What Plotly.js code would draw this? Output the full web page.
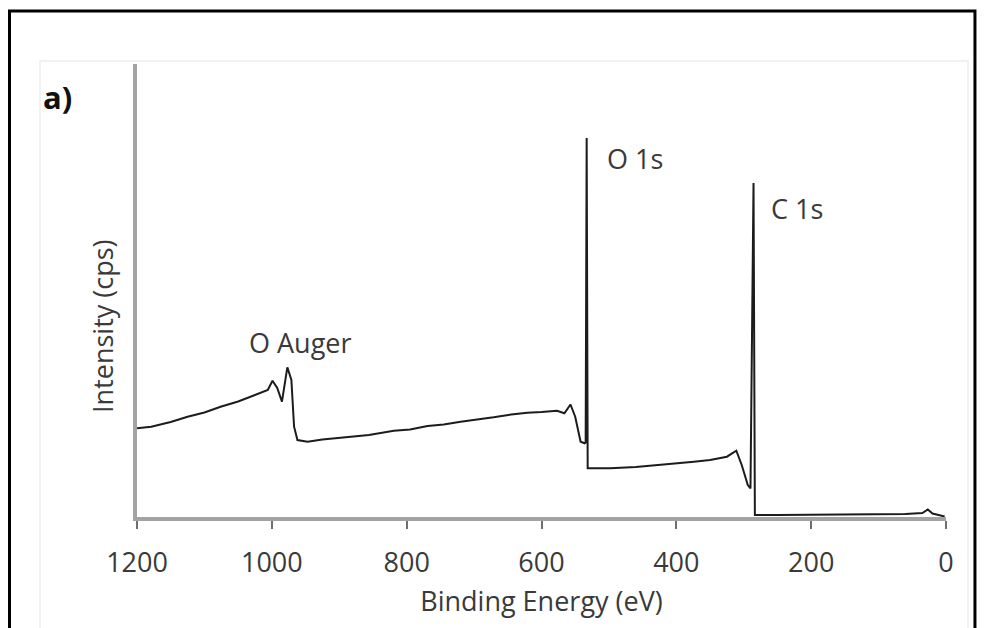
<!DOCTYPE html>
<html>
<head>
<meta charset="utf-8">
<script src="https://cdn.plot.ly/plotly-3.0.1.min.js"></script>
<style>
  html, body { margin: 0; padding: 0; background: #ffffff; }
  #chart { width: 985px; height: 628px; }
</style>
</head>
<body>
<div id="chart"></div>
<script>
// Binding energy (eV) and intensity (arbitrary cps units)
const bindingEnergy = [1200, 1179, 1150, 1125, 1100, 1076, 1050, 1026, 1006, 999, 992, 985, 977, 971, 967, 962, 947, 925, 903, 880, 856, 819, 795, 769, 745, 720, 700, 671, 645, 621, 600, 577, 566, 557, 550, 542, 536, 534.5, 533, 531.5, 527, 498, 460, 424, 374, 350, 325, 311, 303, 294, 290, 285.5, 283.5, 250, 200, 150, 100, 60, 35, 27, 20, 10, 2];
const intensity = [9020, 9180, 9650, 10180, 10600, 11180, 11700, 12350, 12850, 13780, 13050, 11680, 15120, 13850, 9180, 7850, 7680, 7900, 8020, 8150, 8350, 8780, 8900, 9250, 9400, 9680, 9850, 10120, 10400, 10580, 10650, 10780, 10520, 11400, 10180, 7680, 7520, 7600, 38050, 5020, 5020, 5020, 5150, 5350, 5680, 5850, 6180, 6780, 5350, 3350, 3000, 33550, 350, 350, 380, 420, 400, 450, 550, 900, 500, 300, 200];

const xTickValues = [1200, 1000, 800, 600, 400, 200, 0];
const xTickLabels = ["1200", "1000", "800", "600", "400", "200", "0"];

const peakLabels = ["O Auger", "O 1s", "C 1s"];
const peakLabelX = [957, 462, 221];
const peakLabelY = [17650, 36050, 31050];

const FONT = "'Open Sans', 'DejaVu Sans', sans-serif";
const TXT = "#3a3a3a";

const trace = {
  x: bindingEnergy,
  y: intensity,
  type: "scatter",
  mode: "lines",
  line: { color: "#1c1c1c", width: 2 },
  hoverinfo: "skip",
  showlegend: false
};

const annotations = peakLabels.map((t, i) => ({
  x: peakLabelX[i], y: peakLabelY[i], xref: "x", yref: "y",
  text: t, showarrow: false,
  font: { family: FONT, size: 27, color: TXT },
  xanchor: "center", yanchor: "middle"
}));
annotations.push({
  x: -0.0977, y: 0.927, xref: "paper", yref: "paper",
  text: "<b>a)</b>", showarrow: false,
  font: { family: FONT, size: 31, color: "#111111" },
  xanchor: "center", yanchor: "middle"
});
// y-axis title, placed where the reference draws it (below the plot's centre)
annotations.push({
  x: -0.0433, y: 0.4216, xref: "paper", yref: "paper",
  text: "Intensity (cps)", textangle: -90, showarrow: false,
  font: { family: FONT, size: 27, color: TXT },
  xanchor: "center", yanchor: "middle"
});

const layout = {
  width: 985, height: 628,
  margin: { l: 137, r: 39, t: 64, b: 111, pad: 0 },
  paper_bgcolor: "#ffffff",
  plot_bgcolor: "#ffffff",
  font: { family: FONT, color: TXT },
  xaxis: {
    range: [1200, 0],
    tickmode: "array",
    tickvals: xTickValues,
    ticktext: xTickLabels,
    ticks: "outside", ticklen: 8, tickwidth: 2, tickcolor: "#6e6e6e",
    ticklabelstandoff: 11,
    showline: true, linecolor: "#a3a3a3", linewidth: 4,
    showgrid: false, zeroline: false,
    tickfont: { family: FONT, size: 27, color: TXT },
    title: { text: "Binding Energy (eV)", font: { family: FONT, size: 27, color: TXT }, standoff: 14 }
  },
  yaxis: {
    range: [150, 45450],
    showticklabels: false, ticks: "",
    showline: true, linecolor: "#a3a3a3", linewidth: 4,
    showgrid: false, zeroline: false
  },
  annotations: annotations,
  shapes: [
    { type: "rect", xref: "paper", yref: "paper", x0: -0.1199, x1: 1.0272, y0: -0.2715, y1: 1.0066,
      line: { color: "#eeeeee", width: 1.5 }, fillcolor: "rgba(0,0,0,0)", layer: "below" },
    { type: "rect", xref: "paper", yref: "paper", x0: -0.1576, x1: 1.0358, y0: -0.2715, y1: 1.117,
      line: { color: "#000000", width: 3 }, fillcolor: "rgba(0,0,0,0)", layer: "above" }
  ]
};

Plotly.newPlot("chart", [trace], layout, { staticPlot: true, displayModeBar: false });
</script>
</body>
</html>
